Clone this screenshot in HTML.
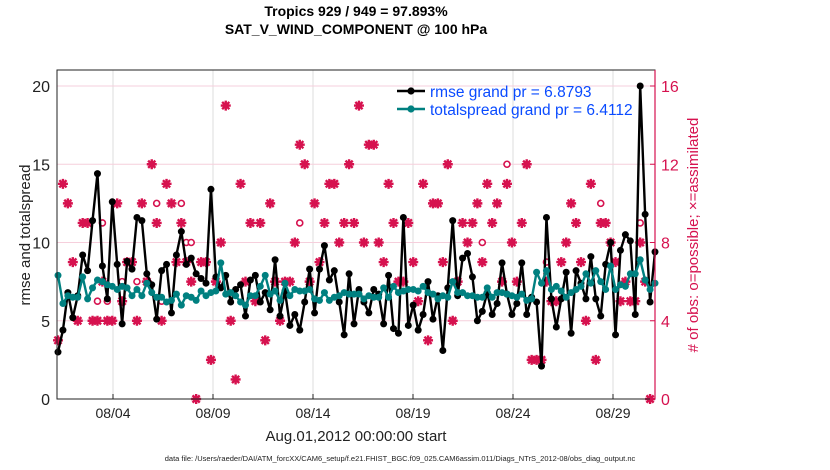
<!DOCTYPE html>
<html><head><meta charset="utf-8"><style>
html,body{margin:0;padding:0;background:#fff;}
svg{display:block;font-family:"Liberation Sans",sans-serif;}
</style></head><body>
<svg id="chart" width="830" height="470" viewBox="0 0 830 470" xmlns="http://www.w3.org/2000/svg">
<text x="356" y="16" font-size="14" font-weight="bold" text-anchor="middle">Tropics 929 / 949 = 97.893%</text>
<text x="356" y="34" font-size="14" font-weight="bold" text-anchor="middle">SAT_V_WIND_COMPONENT @ 100 hPa</text>
<g id="grid"></g>
<g id="marks"></g>
<rect x="57" y="70" width="598" height="329" fill="none" stroke="#222" stroke-width="1"/>
<line x1="655" y1="70" x2="655" y2="399" stroke="#d6124f" stroke-width="1.2"/>
<g id="axes"></g>
<text transform="translate(30,235) rotate(-90)" font-size="15" text-anchor="middle" fill="#222">rmse and totalspread</text>
<text transform="translate(698,235) rotate(-90)" font-size="15" text-anchor="middle" fill="#d6124f"># of obs: o=possible; ×=assimilated</text>
<text x="356" y="441" font-size="15" text-anchor="middle" fill="#222">Aug.01,2012 00:00:00 start</text>
<text x="400" y="461" font-size="7.5" text-anchor="middle" fill="#222">data file: /Users/raeder/DAI/ATM_forcXX/CAM6_setup/f.e21.FHIST_BGC.f09_025.CAM6assim.011/Diags_NTrS_2012-08/obs_diag_output.nc</text>
<g id="legend">
<line x1="397" y1="91" x2="425" y2="91" stroke="#000" stroke-width="2.5"/>
<circle cx="411" cy="91" r="3.6" fill="#000"/>
<text x="430" y="97" font-size="15.5" fill="#0a4bff">rmse grand pr = 6.8793</text>
<line x1="397" y1="109" x2="425" y2="109" stroke="#008080" stroke-width="2.5"/>
<circle cx="411" cy="109" r="3.6" fill="#008080"/>
<text x="430" y="115" font-size="15.5" fill="#0a4bff">totalspread grand pr = 6.4112</text>
</g>
</svg>
<script>
const rmse = [3.0,4.4,6.8,5.2,6.6,9.2,8.2,11.4,14.4,8.5,6.4,12.6,8.6,4.8,8.8,8.3,11.6,11.4,8.0,7.3,5.1,8.2,8.6,5.5,9.2,10.7,8.6,9.0,8.0,7.7,7.4,13.4,7.8,7.1,7.9,6.2,7.0,7.3,5.3,
 7.6,7.9,6.2,6.8,5.7,8.9,5.3,6.9,4.7,5.4,4.4,6.2,8.3,5.5,8.3,9.8,7.6,8.2,6.2,4.1,8.0,4.8,7.0,6.2,5.5,7.0,6.7,4.8,7.9,4.5,4.2,11.6,4.7,6.0,4.4,5.4,7.5,5.1,6.6,3.1,7.1,11.4,
 6.6,9.0,9.3,7.8,5.0,5.6,6.8,5.4,6.1,8.7,6.7,5.4,6.1,8.7,5.4,6.5,6.2,2.1,11.6,6.4,4.6,6.4,8.1,4.2,8.2,7.4,6.4,9.1,6.4,5.3,8.6,10.0,4.1,9.5,10.5,10.1,5.4,20.0,11.8,6.2,9.4];
const spread = [7.9,6.1,6.6,6.5,6.5,7.8,6.4,7.1,7.6,7.5,7.3,7.2,7.0,7.2,7.1,6.6,7.0,6.6,7.4,6.8,6.5,6.5,6.2,6.3,6.7,6.0,6.6,6.5,6.3,6.9,6.6,6.8,6.9,8.7,6.7,6.8,6.6,6.2,6.0,
 6.6,6.6,7.2,7.9,6.7,6.9,6.3,7.4,6.6,7.0,6.9,6.9,7.0,6.4,6.3,6.8,6.3,6.5,6.6,6.8,6.7,6.7,6.7,6.4,6.6,6.5,6.5,7.1,6.5,7.2,6.8,6.9,7.0,7.0,6.9,7.2,6.8,6.7,6.4,6.6,6.5,7.5,
 6.8,6.8,6.6,6.6,6.5,6.5,7.1,6.5,6.8,6.8,6.7,6.6,6.5,6.7,6.3,6.4,8.1,7.4,8.2,7.0,7.2,6.9,6.5,6.8,7.0,7.2,8.0,7.4,8.2,7.5,7.0,8.5,7.0,7.3,7.2,8.0,8.0,8.9,7.6,7.0,7.4];
const assimilated = [3,11,10,7,4,9,9,4,4,6,4,4,10,5,7,7,4,10,6,12,9,4,11,10,7,9,7,6,0,7,7,2,6,8,15,4,1,11,6,
 9,5,9,3,10,6,4,6,6,8,13,12,6,10,7,9,11,11,8,9,12,9,15,8,13,13,8,7,11,9,6,6,9,7,5,11,3,10,10,7,12,
 4,6,9,8,9,10,7,11,9,10,6,11,8,6,9,12,2,2,2,6,5,5,7,8,10,9,7,4,11,2,9,9,8,7,5,6,5,5,8,6,0];
const possibleIdx = [8,9,10,13,16,20,21,25,26,27,49,86,91,99,110,118];
const possibleVal = [5,9,5,6,6,10,5,10,8,8,9,8,12,7,10,9];
const xTicks = ["08/04","08/09","08/14","08/19","08/24","08/29"];
const xTickDays = [3,8,13,18,23,28];
const leftTicks = [0,5,10,15,20];
const rightTicks = [0,4,8,12,16];

const NS="http://www.w3.org/2000/svg";
const X0=53, PX_PER_DAY=20, Y0=399, PX_PER_UNIT=15.65;
function xDay(d){return X0+d*PX_PER_DAY;}
function xIdx(i){return xDay(0.25+i*(29.85/(rmse.length-1)));}
function yL(v){return Y0-v*PX_PER_UNIT;}
function yR(c){return Y0-c*PX_PER_UNIT*20/16;}
function mk(tag,attrs,parent){const e=document.createElementNS(NS,tag);for(const k in attrs)e.setAttribute(k,attrs[k]);parent.appendChild(e);return e;}
const grid=document.getElementById('grid'),marks=document.getElementById('marks'),axes=document.getElementById('axes');
const PINK="#d6124f";
xTickDays.forEach((d,i)=>{
 const l=mk('line',{x1:xDay(d),x2:xDay(d),y1:70,y2:399,stroke:'#ddd','stroke-width':1},grid);
 
 
 const t=mk('text',{x:xDay(d),y:418,'font-size':14,'text-anchor':'middle',fill:'#222'},axes);
 t.textContent=xTicks[i];
 
 
 mk('line',{x1:xDay(d),x2:xDay(d),y1:399,y2:394,stroke:'#222'},axes);
});
leftTicks.forEach(v=>{
 const l=mk('line',{x1:57,x2:655,y1:yL(v),y2:yL(v),stroke:'#f6cfdc','stroke-width':1},grid);
 
 
 const t=mk('text',{x:50,y:yL(v)+6,'font-size':16,'text-anchor':'end',fill:'#222'},axes);
 t.textContent=v;
 
 
});
rightTicks.forEach(v=>{
 mk('line',{x1:650,x2:655,y1:yR(v),y2:yR(v),stroke:PINK},axes);
 const t=mk('text',{x:661,y:yR(v)+6,'font-size':16,fill:PINK},axes);
 t.textContent=v;
 
 
});
// obs markers
assimilated.forEach((c,i)=>{
 const x=xIdx(i),y=yR(c);
 const g=mk('g',{},marks);
 
 
 mk('path',{d:`M${x-5},${y}H${x+5}M${x},${y-5}V${y+5}M${x-3.6},${y-3.6}L${x+3.6},${y+3.6}M${x-3.6},${y+3.6}L${x+3.6},${y-3.6}`,stroke:PINK,'stroke-width':2.4,fill:'none'},g);
 mk('circle',{cx:x,cy:y,r:3.2,fill:PINK},g);
});
possibleIdx.forEach((idx,k)=>{
 const c=mk('circle',{cx:xIdx(idx),cy:yR(possibleVal[k]),r:3,fill:'#fff',stroke:PINK,'stroke-width':1.6},marks);
 
 
});
function series(vals,color,name){
 const p=mk('polyline',{points:vals.map((v,i)=>xIdx(i)+','+yL(v)).join(' '),fill:'none',stroke:color,'stroke-width':2.4,'stroke-linejoin':'round'},marks);
 
 
 vals.forEach((v,i)=>{
  const c=mk('circle',{cx:xIdx(i),cy:yL(v),r:3.5,fill:color},marks);
  
  
 });
}
series(rmse,'#000','rmse');
series(spread,'#008080','totalspread');
</script>
</body></html>
